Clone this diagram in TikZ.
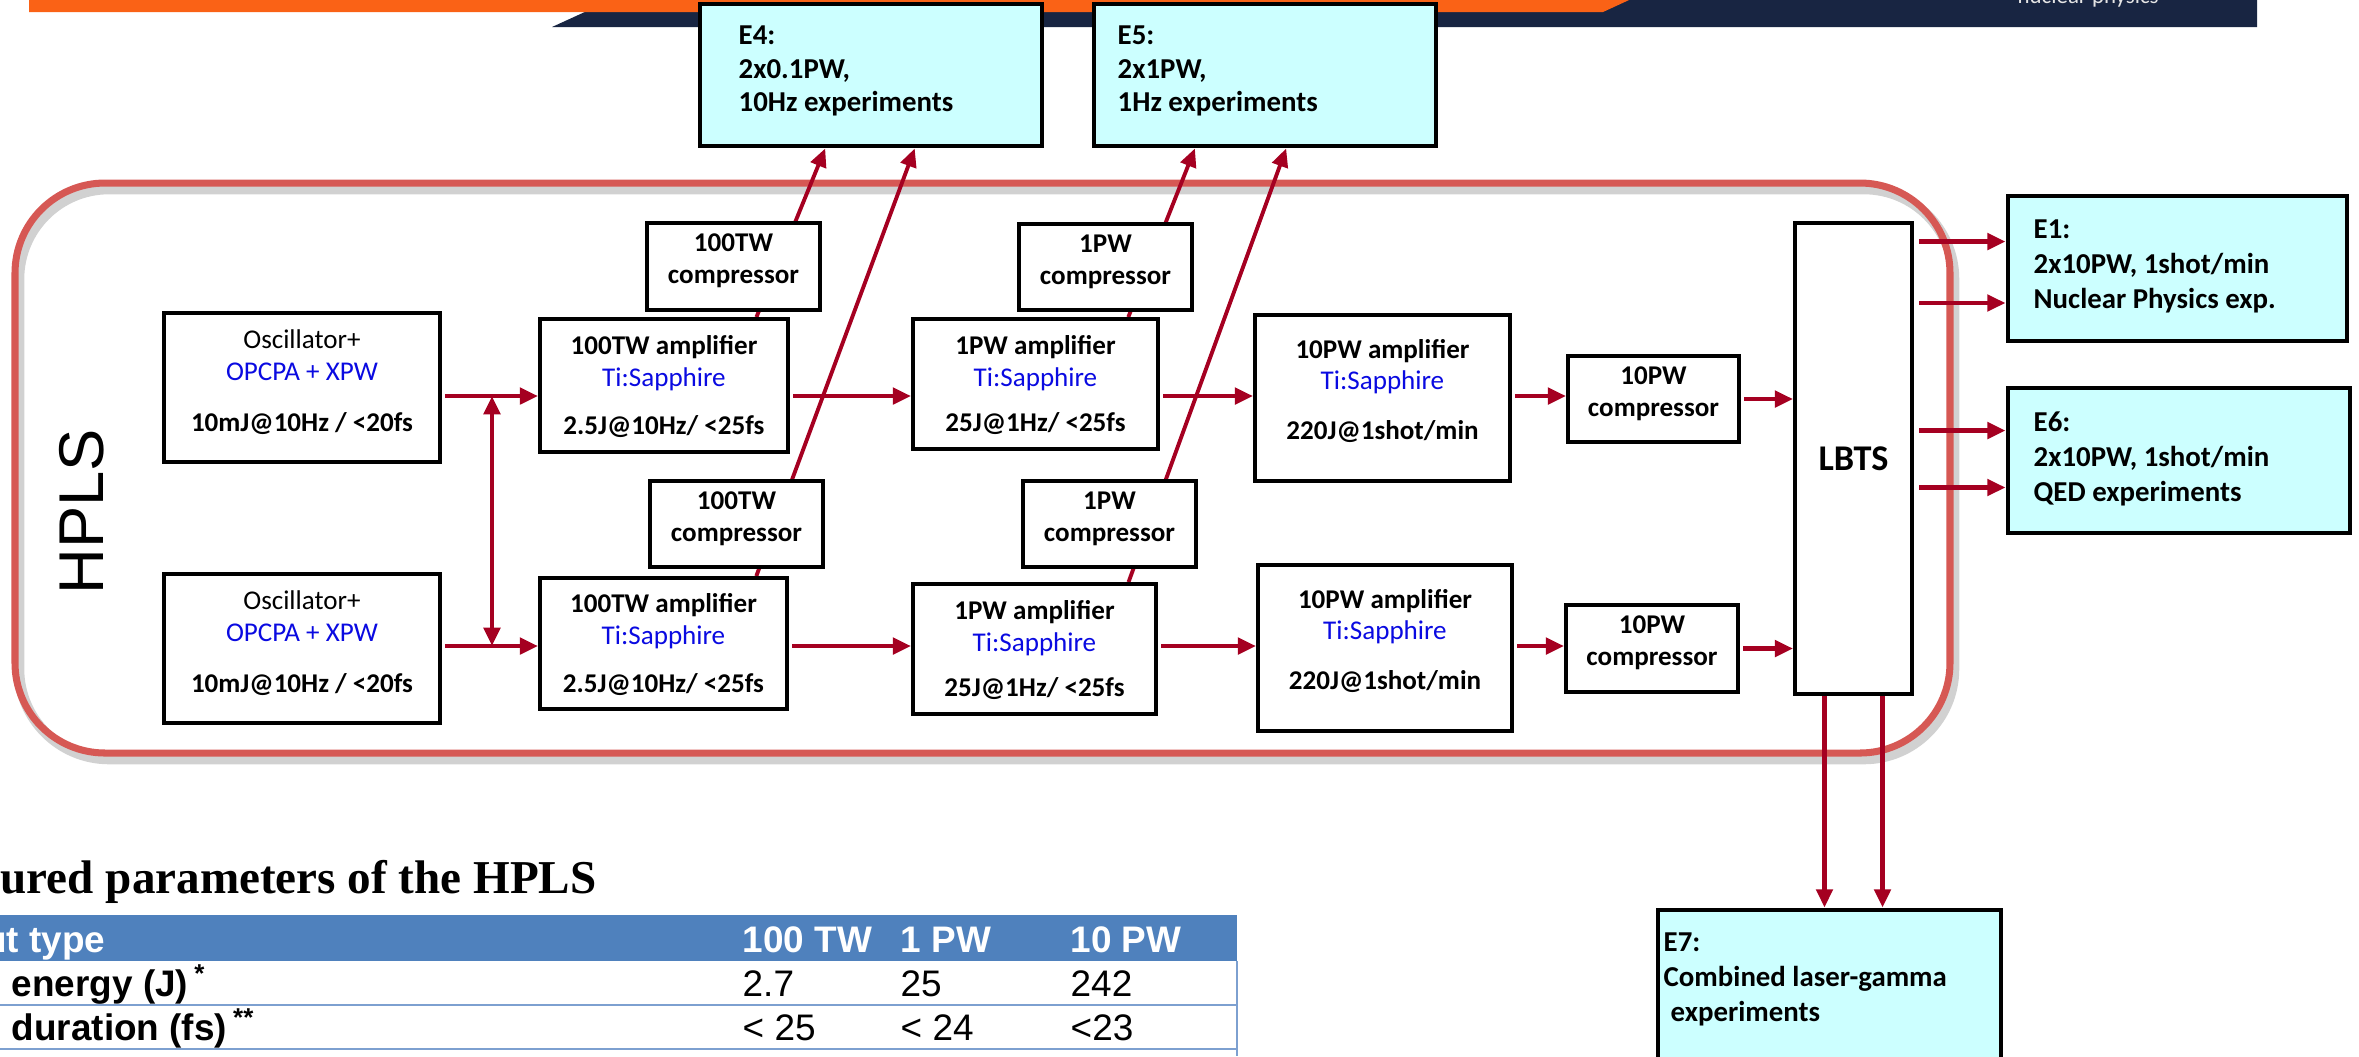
\documentclass[tikz,border=0pt]{standalone}
\usepackage{fontspec}
\setmainfont{Carlito}
\newfontfamily\tabfont{Liberation Sans}
\newfontfamily\titlefont{Liberation Serif}
\usetikzlibrary{arrows.meta,fit,calc}

\definecolor{beamred}{RGB}{165,0,33}
\definecolor{tiblue}{RGB}{10,10,225}
\definecolor{ecyan}{RGB}{204,255,255}
\definecolor{hplsred}{RGB}{214,88,84}
\definecolor{hdrblue}{RGB}{79,129,189}
\definecolor{rowline}{RGB}{125,160,208}
\definecolor{bannerorange}{RGB}{250,98,22}
\definecolor{bannernavy}{RGB}{24,37,66}

\pgfdeclarelayer{frame}
\pgfdeclarelayer{beams}
\pgfsetlayers{frame,beams,main}

\tikzset{
  >={Triangle[length=5.2pt,width=4.6pt]},
  box/.style={draw, line width=1.1pt, fill=white, inner sep=0pt},
  boxtext/.style={inner sep=0pt, align=center, font=\fontsize{7.7}{9}\selectfont},
  osctext/.style={boxtext, font=\fontsize{7.7}{9.1}\selectfont, yshift=1.5pt},
  amptext/.style={boxtext, yshift=-0.3pt},
  bigamptext/.style={boxtext, yshift=2pt},
  comptext/.style={boxtext, font=\bfseries\fontsize{7.7}{9.1}\selectfont, yshift=1.5pt},
  ebox/.style={draw, line width=1.4pt, fill=ecyan, inner sep=0pt},
  etext/.style={anchor=north west, inner sep=0pt, align=left,
    font=\bfseries\fontsize{8.2}{10}\selectfont},
  beam/.style={draw=beamred, line width=1.3pt, ->, shorten <=1pt},
  slant/.style={beam, line width=1.1pt, shorten <=0pt},
  tabtext/.style={anchor=base west, inner sep=0pt,
    font=\tabfont\fontsize{10.5}{12}\selectfont},
  tabbold/.style={tabtext, font=\tabfont\bfseries\fontsize{10.5}{12}\selectfont},
}

\begin{document}
\begin{tikzpicture}[x=0.01cm, y=-0.01cm]
  \useasboundingbox (0,0) rectangle (2359,1056);
  \clip (0,0) rectangle (2359,1056);

  % banner at the top
  \fill[bannernavy] (552,27) -- (611,0) -- (2257,0) -- (2257,27) -- cycle;
  \fill[bannerorange] (29,0) -- (1629,0) -- (1603,12) -- (29,12) -- cycle;
  \node[anchor=base west, inner sep=0pt, text=gray!20,
    font=\fontsize{6.5}{7}\selectfont] (banner) at (2017,3) {nuclear physics};

  % HPLS frame
  \begin{pgfonlayer}{frame}
    \draw[black!40, opacity=0.45, line width=3pt, rounded corners=0.9cm]
      (19,189) rectangle (1954,759);
    \draw[hplsred, line width=2pt, rounded corners=0.9cm]
      (15,183) rectangle (1950,753);
  \end{pgfonlayer}
  \node[rotate=90, font=\tabfont\fontsize{18}{20}\selectfont] (hpls) at (82,512) {HPLS};

  % oscillators
  \node[box, fit={(164,313) (440,462)}] (osc1) {};
  \node[osctext] (osc1t) at (osc1)
    {Oscillator+\\\textcolor{tiblue}{OPCPA + XPW}\\[5.4pt]\textbf{10mJ@10Hz / <20fs}};
  \node[box, fit={(164,574) (440,723)}] (osc2) {};
  \node[osctext] (osc2t) at (osc2)
    {Oscillator+\\\textcolor{tiblue}{OPCPA + XPW}\\[5.4pt]\textbf{10mJ@10Hz / <20fs}};

  % amplifiers
  \node[box, fit={(540,319) (788,452)}] (amp1) {};
  \node[amptext] (amp1t) at (amp1)
    {\textbf{100TW amplifier}\\\textcolor{tiblue}{Ti:Sapphire}\\[4.6pt]\textbf{2.5J@10Hz/ <25fs}};
  \node[box, fit={(540,578) (787,709)}] (amp2) {};
  \node[amptext] (amp2t) at (amp2)
    {\textbf{100TW amplifier}\\\textcolor{tiblue}{Ti:Sapphire}\\[4.6pt]\textbf{2.5J@10Hz/ <25fs}};
  \node[box, fit={(913,319) (1158,449)}] (amp3) {};
  \node[amptext] (amp3t) at (amp3)
    {\textbf{1PW amplifier}\\\textcolor{tiblue}{Ti:Sapphire}\\[4pt]\textbf{25J@1Hz/ <25fs}};
  \node[box, fit={(913,584) (1156,714)}] (amp4) {};
  \node[amptext] (amp4t) at (amp4)
    {\textbf{1PW amplifier}\\\textcolor{tiblue}{Ti:Sapphire}\\[4pt]\textbf{25J@1Hz/ <25fs}};
  \node[box, fit={(1255,315) (1510,481)}] (amp5) {};
  \node[bigamptext] (amp5t) at (amp5)
    {\textbf{10PW amplifier}\\\textcolor{tiblue}{Ti:Sapphire}\\[5.2pt]\textbf{220J@1shot/min}};
  \node[box, fit={(1258,565) (1512,731)}] (amp6) {};
  \node[bigamptext] (amp6t) at (amp6)
    {\textbf{10PW amplifier}\\\textcolor{tiblue}{Ti:Sapphire}\\[5.2pt]\textbf{220J@1shot/min}};

  % compressors
  \node[box, fit={(647,223) (820,310)}] (comp1) {};
  \node[comptext] (comp1t) at (comp1) {100TW\\compressor};
  \node[box, fit={(650,481) (823,567)}] (comp2) {};
  \node[comptext] (comp2t) at (comp2) {100TW\\compressor};
  \node[box, fit={(1019,224) (1192,310)}] (comp3) {};
  \node[comptext] (comp3t) at (comp3) {1PW\\compressor};
  \node[box, fit={(1023,481) (1196,567)}] (comp4) {};
  \node[comptext] (comp4t) at (comp4) {1PW\\compressor};
  \node[box, fit={(1568,356) (1739,442)}] (comp5) {};
  \node[comptext] (comp5t) at (comp5) {10PW\\compressor};
  \node[box, fit={(1566,605) (1738,692)}] (comp6) {};
  \node[comptext] (comp6t) at (comp6) {10PW\\compressor};

  % beam transport
  \node[box, fit={(1795,223) (1912,694)}] (lbts) {};
  \node[boxtext, font=\bfseries\fontsize{10.3}{12}\selectfont] (lbtst) at (lbts) {LBTS};

  % experimental areas
  \node[ebox, fit={(700,4) (1042,146)}] (e4) {};
  \node[etext, font=\bfseries\fontsize{8.2}{9.6}\selectfont] (e4t) at (738,25) {E4:\\2x0.1PW,\\10Hz experiments};
  \node[ebox, fit={(1094,4) (1436,146)}] (e5) {};
  \node[etext, font=\bfseries\fontsize{8.2}{9.6}\selectfont] (e5t) at (1117,25) {E5:\\2x1PW,\\1Hz experiments};
  \node[ebox, fit={(2008,196) (2347,341)}] (e1) {};
  \node[etext] (e1t) at (2033,219) {E1:\\2x10PW, 1shot/min\\Nuclear Physics exp.};
  \node[ebox, fit={(2008,388) (2350,533)}] (e6) {};
  \node[etext] (e6t) at (2033,411) {E6:\\2x10PW, 1shot/min\\QED experiments};
  \node[ebox, fit={(1658,910) (2001,1080)}] (e7) {};
  \node[etext] (e7t) at (1663,932) {E7:\\Combined laser-gamma\\\hspace{2pt}experiments};

  % helper coordinates
  \coordinate (rowA) at (0,396);
  \coordinate (rowB) at (0,646);
  \coordinate (sw) at (492,0);
  \coordinate (e1a) at ($(e1.north west)!0.32!(e1.south west)$);
  \coordinate (e1b) at ($(e1.north west)!0.73!(e1.south west)$);
  \coordinate (e6a) at ($(e6.north west)!0.30!(e6.south west)$);
  \coordinate (e6b) at ($(e6.north west)!0.68!(e6.south west)$);
  \coordinate (d1) at ($(lbts.south west)!0.26!(lbts.south east)$);
  \coordinate (d2) at ($(lbts.south west)!0.74!(lbts.south east)$);

  \begin{pgfonlayer}{beams}
    \draw[beam] (osc1.east |- rowA) -- (amp1.west |- rowA);
    \draw[beam] (osc2.east |- rowB) -- (amp2.west |- rowB);
    \draw[beam, <->, shorten <=0pt] (sw |- rowA) -- (sw |- rowB);
    \draw[beam] (amp1.east |- rowA) -- (amp3.west |- rowA);
    \draw[beam] (amp2.east |- rowB) -- (amp4.west |- rowB);
    \draw[beam] (amp3.east |- rowA) -- (amp5.west |- rowA);
    \draw[beam] (amp4.east |- rowB) -- (amp6.west |- rowB);
    \draw[beam] (amp5.east |- rowA) -- (comp5.west |- rowA);
    \draw[beam] (amp6.east |- rowB) -- (comp6.west |- rowB);
    \draw[beam] (comp5.east) -- (comp5.east -| lbts.west);
    \draw[beam] (comp6.east) -- (comp6.east -| lbts.west);
    % to the experimental areas
    \draw[beam, shorten <=1.5pt] (lbts.east |- e1a) -- (e1a);
    \draw[beam, shorten <=1.5pt] (lbts.east |- e1b) -- (e1b);
    \draw[beam, shorten <=1.5pt] (lbts.east |- e6a) -- (e6a);
    \draw[beam, shorten <=1.5pt] (lbts.east |- e6b) -- (e6b);
    \draw[beam, shorten <=0pt] (d1) -- (d1 |- e7.north);
    \draw[beam, shorten <=0pt] (d2) -- (d2 |- e7.north);
    \draw[slant] ($(amp1.north west)!0.867!(amp1.north east)$) -- ($(e4.south west)!0.368!(e4.south east)$);
    \draw[slant] ($(amp2.north west)!0.870!(amp2.north east)$) -- ($(e4.south west)!0.626!(e4.south east)$);
    \draw[slant] ($(amp3.north west)!0.873!(amp3.north east)$) -- ($(e5.south west)!0.298!(e5.south east)$);
    \draw[slant] ($(amp4.north west)!0.881!(amp4.north east)$) -- ($(e5.south west)!0.561!(e5.south east)$);
  \end{pgfonlayer}

  % parameter table
  \node[anchor=base west, inner sep=0pt,
    font=\titlefont\bfseries\fontsize{13.4}{15}\selectfont] (title) at (0,893)
    {ured parameters of the HPLS};
  \fill[hdrblue] (0,915) rectangle (1237,961);
  \draw[rowline, line width=0.8pt] (0,1005) -- (1237,1005);
  \draw[rowline, line width=0.8pt] (0,1049) -- (1237,1049);
  \draw[rowline, line width=0.8pt] (1237,961) -- (1237,1056);
  \node[tabbold, anchor=base east, text=white] (h0) at (106,952) {ut type};
  \node[tabbold, text=white] (h1) at (742,952) {100 TW};
  \node[tabbold, text=white] (h2) at (900,952) {1 PW};
  \node[tabbold, text=white] (h3) at (1070,952) {10 PW};
  \node[tabbold] (r1) at (11,996) {energy (J)\,\textsuperscript{*}};
  \node[tabtext] (r1a) at (742,996) {2.7};
  \node[tabtext] (r1b) at (900,996) {25};
  \node[tabtext] (r1c) at (1070,996) {242};
  \node[tabbold] (r2) at (11,1040) {duration (fs)\,\textsuperscript{**}};
  \node[tabtext] (r2a) at (742,1040) {< 25};
  \node[tabtext] (r2b) at (900,1040) {< 24};
  \node[tabtext] (r2c) at (1070,1040) {<23};
\end{tikzpicture}
\end{document}
